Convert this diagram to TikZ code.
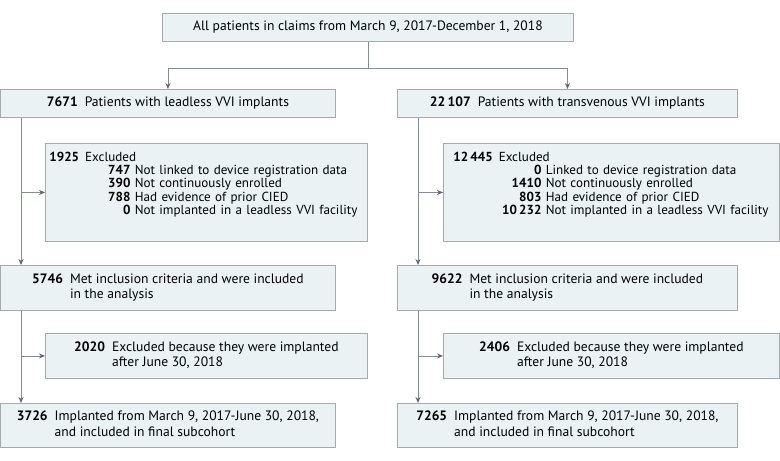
\documentclass[tikz,border=0pt]{standalone}
\usepackage{fontspec}
\setmainfont{PT Sans}
\usetikzlibrary{arrows.meta,calc,positioning}
\definecolor{BoxFill}{HTML}{EAF2F4}
\definecolor{BoxEdge}{HTML}{A3ABAF}
\definecolor{Wire}{HTML}{868D92}
\definecolor{Tip}{HTML}{5F666B}
\tikzset{
  stage/.style={
    draw=BoxEdge, fill=BoxFill, line width=0.9pt, anchor=north west,
    inner sep=0pt, align=center, font=\fontsize{13.6}{15.6}\selectfont
  },
  excl/.style={
    stage, align=left, inner ysep=0pt, font=\fontsize{13.1}{13.3}\selectfont
  },
  flow/.style={-{Stealth[length=6pt,width=5pt,fill=Tip,color=Tip]}, line width=0.9pt, draw=Wire},
  wire/.style={line width=0.9pt, draw=Wire}
}
\newcommand{\pair}[2]{\begin{tabular}{@{}r@{\hspace{7pt}}l@{}}\textbf{#1} & #2\end{tabular}}
\begin{document}
\begin{tikzpicture}[x=1pt,y=-1pt]
  \useasboundingbox (0,0) rectangle (780,461);
  % top
  \node[stage,minimum width=411pt,minimum height=28pt] (all) at (162,13)
    {All patients in claims from March 9, 2017-December 1, 2018};
  % cohorts
  \node[stage,minimum width=335pt,minimum height=28pt] (lv) at (0,89)
    {\textbf{7671}\hspace{7pt}Patients with leadless VVI implants};
  \node[stage,minimum width=340pt,minimum height=28pt] (rv) at (397,89)
    {\textbf{22\,107}\hspace{7pt}Patients with transvenous VVI implants};
  % first exclusions
  \node[excl,minimum width=322pt,minimum height=98pt,inner xsep=4pt,text width=314pt] (lex) at (45,143)
    {\textbf{1925}\hspace{6pt}Excluded\\
     \makebox[81pt][r]{\textbf{747}} Not linked to device registration data\\
     \makebox[81pt][r]{\textbf{390}} Not continuously enrolled\\
     \makebox[81pt][r]{\textbf{788}} Had evidence of prior CIED\\
     \makebox[81pt][r]{\textbf{0}} Not implanted in a leadless VVI facility\\[5pt]\mbox{}};
  \node[excl,minimum width=336pt,minimum height=98pt,inner xsep=10pt,text width=316pt] (rex) at (443,143)
    {\textbf{12\,445}\hspace{6pt}Excluded\\
     \makebox[88pt][r]{\textbf{0}} Linked to device registration data\\
     \makebox[88pt][r]{\textbf{1410}} Not continuously enrolled\\
     \makebox[88pt][r]{\textbf{803}} Had evidence of prior CIED\\
     \makebox[88pt][r]{\textbf{10\,232}} Not implanted in a leadless VVI facility\\[5pt]\mbox{}};
  % included
  \node[stage,minimum width=335pt,minimum height=45pt] (lin) at (0,265)
    {\pair{5746}{Met inclusion criteria and were included\\ & in the analysis}};
  \node[stage,minimum width=340pt,minimum height=45pt] (rin) at (397,265)
    {\pair{9622}{Met inclusion criteria and were included\\ & in the analysis}};
  % second exclusions
  \node[stage,minimum width=322pt,minimum height=45pt] (lx2) at (45,333)
    {\pair{2020}{Excluded because they were implanted\\ & after June 30, 2018}};
  \node[stage,minimum width=336pt,minimum height=45pt] (rx2) at (443,333)
    {\pair{2406}{Excluded because they were implanted\\ & after June 30, 2018}};
  % final
  \node[stage,minimum width=335pt,minimum height=44pt] (lfin) at (0,403)
    {\pair{3726}{Implanted from March 9, 2017-June 30, 2018,\\ & and included in final subcohort}};
  \node[stage,minimum width=340pt,minimum height=44pt] (rfin) at (397,403)
    {\pair{7265}{Implanted from March 9, 2017-June 30, 2018,\\ & and included in final subcohort}};
  % connectors
  \coordinate (split) at ($(all.south)+(0,27)$);
  \draw[wire] (all.south) -- (split);
  \draw[flow] (split) -| (lv.north);
  \draw[flow] (split) -| (rv.north);
  \coordinate (ltrunk) at ($(lv.south west)+(21,0)$);
  \coordinate (rtrunk) at ($(rv.south west)+(21,0)$);
  \draw[flow] (ltrunk) -- (lin.north -| ltrunk);
  \draw[flow] (rtrunk) -- (rin.north -| rtrunk);
  \draw[flow] (lex.west -| ltrunk) -- (lex.west);
  \draw[flow] (rex.west -| rtrunk) -- (rex.west);
  \draw[flow] (lin.south -| ltrunk) -- (lfin.north -| ltrunk);
  \draw[flow] (rin.south -| rtrunk) -- (rfin.north -| rtrunk);
  \draw[flow] (lx2.west -| ltrunk) -- (lx2.west);
  \draw[flow] (rx2.west -| rtrunk) -- (rx2.west);
\end{tikzpicture}
\end{document}
